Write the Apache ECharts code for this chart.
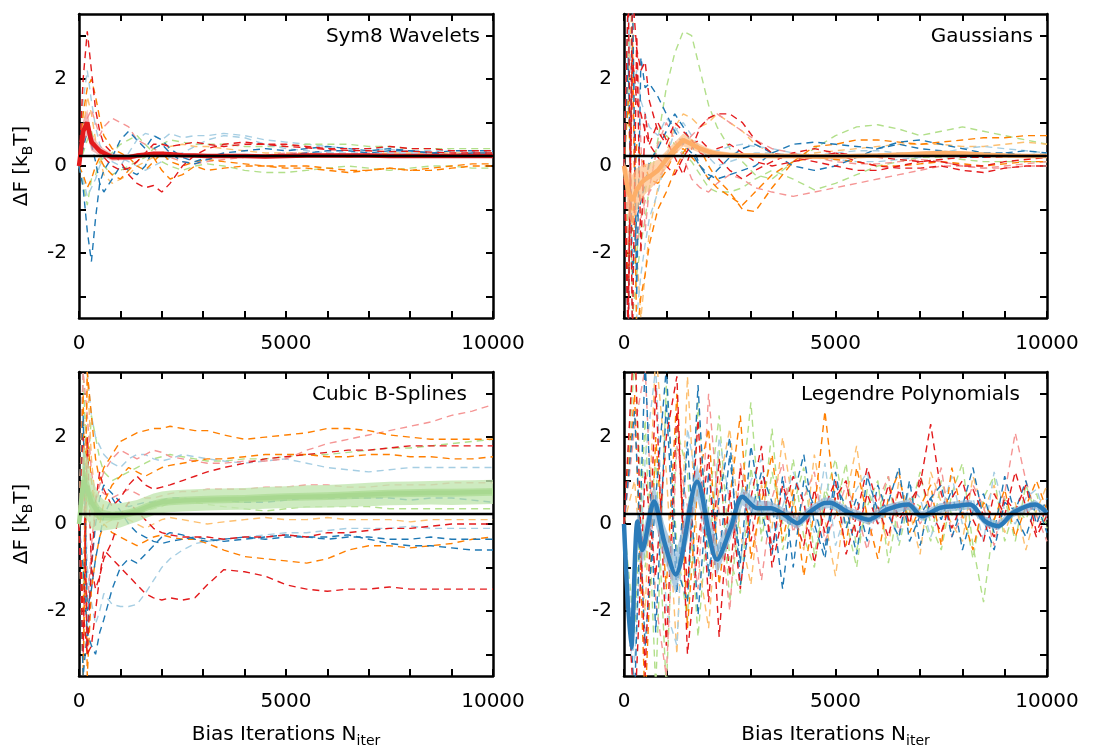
<!DOCTYPE html>
<html>
<head>
<meta charset="utf-8">
<script src="https://cdn.jsdelivr.net/npm/echarts@6/dist/echarts.min.js"></script>
<style>
  html, body { margin: 0; padding: 0; background: #fff; }
  #chart { width: 1109px; height: 749px; }
</style>
</head>
<body>
<div id="chart"></div>
<script>
// shared x positions (bias iterations) for the smooth-ish panels
const X_GRID = [0, 100, 200, 300, 400, 500, 600, 800, 1000, 1200, 1400, 1600, 1800, 2000, 2200, 2500,
  2800, 3100, 3500, 4000, 4500, 5000, 5500, 6000, 6500, 7000, 7500, 8000, 8500, 9000, 9500, 10000];
// Legendre panel runs are sampled every 250 iterations
const X_LEG = [0, 250, 500, 750, 1000, 1250, 1500, 1750, 2000, 2250, 2500, 2750, 3000, 3250, 3500, 3750,
  4000, 4250, 4500, 4750, 5000, 5250, 5500, 5750, 6000, 6250, 6500, 6750, 7000, 7250, 7500, 7750,
  8000, 8250, 8500, 8750, 9000, 9250, 9500, 9750, 10000];
const REF_VALUE = 0.23;
const X_LABELS = [0, 5000, 10000];
const X_TICKS = [0, 1000, 2000, 3000, 4000, 5000, 6000, 7000, 8000, 9000, 10000];
const Y_LABELS = [-2, 0, 2];
const Y_TICKS = [-3, -2, -1, 0, 1, 2, 3];

// ---- Sym8 Wavelets ----
const sym8Red = [0, 2.0, 3.1, 2.2, 1.3, 0.8, 0.5, 0.3, 0.1, -0.2, -0.4, -0.5, -0.45, -0.6, -0.4, 0.0, 0.25, 0.4, 0.5, 0.55, 0.5, 0.45, 0.42, 0.38, 0.36, 0.35, 0.33, 0.34, 0.32, 0.3, 0.3, 0.3];
const sym8Orange = [0, 1.2, 1.8, 2.0, 1.6, 1.1, 0.7, 0.4, 0.3, 0.2, 0.0, -0.1, 0.1, 0.3, 0.1, 0.0, 0.1, 0.15, 0.1, 0.05, 0.0, 0.0, 0.0, -0.05, -0.1, -0.1, -0.05, -0.1, -0.05, 0.0, 0.05, 0.05];
const sym8Blue = [0, -0.5, -1.5, -2.2, -1.2, -0.4, -0.1, 0.2, 0.6, 0.8, 0.6, 0.4, 0.7, 0.6, 0.4, 0.2, 0.1, 0.2, 0.3, 0.35, 0.4, 0.35, 0.4, 0.45, 0.4, 0.35, 0.4, 0.35, 0.3, 0.35, 0.35, 0.35];
const sym8LBlue = [0, 1.5, 2.2, 1.5, 0.9, 0.5, 0.3, 0.1, 0.0, 0.3, 0.6, 0.75, 0.7, 0.6, 0.75, 0.65, 0.7, 0.7, 0.75, 0.7, 0.6, 0.55, 0.5, 0.45, 0.4, 0.4, 0.38, 0.35, 0.35, 0.35, 0.35, 0.35];
const sym8Pink = [0, 0.6, 1.1, 1.3, 1.0, 0.7, 0.9, 1.1, 1.0, 0.9, 0.6, 0.5, 0.4, 0.3, 0.2, 0.1, 0.05, 0.1, 0.15, 0.2, 0.25, 0.3, 0.3, 0.3, 0.25, 0.25, 0.25, 0.2, 0.2, 0.2, 0.2, 0.2];
const sym8LGreen = [0, -0.4, -0.9, -0.3, -0.2, 0.1, 0.2, 0.3, 0.5, 0.6, 0.7, 0.5, 0.3, 0.1, 0.0, -0.1, 0.0, 0.05, 0.0, -0.1, -0.15, -0.15, -0.1, -0.05, 0.0, -0.05, -0.1, -0.05, 0.0, 0.0, -0.05, -0.05];
const sym8LOrange = [0, 0.8, 1.6, 1.2, 0.6, 0.2, -0.2, -0.4, -0.3, -0.2, 0.0, 0.1, 0.2, 0.3, 0.45, 0.5, 0.45, 0.45, 0.4, 0.35, 0.3, 0.3, 0.3, 0.25, 0.2, 0.25, 0.3, 0.3, 0.3, 0.3, 0.3, 0.3];
const sym8Blue2 = [0, 0.4, 0.8, 0.5, 0.1, -0.4, -0.6, -0.3, 0.0, -0.1, -0.2, 0.0, 0.4, 0.5, 0.3, 0.1, 0.05, 0.15, 0.25, 0.25, 0.2, 0.25, 0.3, 0.35, 0.35, 0.3, 0.35, 0.35, 0.3, 0.25, 0.3, 0.3];
const sym8Orange2 = [0, -0.2, -0.5, -0.3, 0.0, 0.2, 0.0, -0.2, -0.3, -0.1, 0.1, 0.3, 0.2, -0.1, -0.3, -0.2, 0.0, -0.1, -0.05, 0.0, 0.0, -0.05, -0.05, -0.1, -0.15, -0.1, -0.05, -0.1, -0.1, -0.05, 0.0, 0.0];
const sym8Red2 = [0, 0.5, 1.0, 0.7, 0.4, 0.3, 0.2, 0.0, -0.1, -0.05, 0.1, 0.3, 0.5, 0.5, 0.45, 0.5, 0.55, 0.5, 0.45, 0.5, 0.5, 0.5, 0.45, 0.4, 0.4, 0.4, 0.45, 0.4, 0.4, 0.35, 0.35, 0.35];
const sym8LGreen2 = [0, 0.3, 0.6, 0.8, 0.5, 0.3, 0.0, -0.2, -0.1, 0.0, 0.1, 0.2, 0.4, 0.5, 0.6, 0.55, 0.5, 0.5, 0.5, 0.45, 0.45, 0.45, 0.5, 0.5, 0.5, 0.45, 0.45, 0.4, 0.4, 0.4, 0.4, 0.4];
const sym8LBlue2 = [0, -0.3, -0.7, -0.5, -0.3, 0.0, 0.2, 0.3, 0.2, 0.1, 0.0, -0.1, 0.0, 0.1, 0.2, 0.3, 0.45, 0.6, 0.7, 0.65, 0.5, 0.4, 0.35, 0.3, 0.3, 0.3, 0.3, 0.3, 0.3, 0.25, 0.3, 0.3];
const sym8Mean = [0, 0.8, 1.0, 0.55, 0.45, 0.35, 0.3, 0.2, 0.2, 0.2, 0.24, 0.26, 0.28, 0.28, 0.27, 0.25, 0.24, 0.23, 0.23, 0.23, 0.22, 0.23, 0.24, 0.24, 0.24, 0.24, 0.23, 0.23, 0.23, 0.23, 0.23, 0.23];
const sym8Band = [0.05, 0.25, 0.3, 0.2, 0.15, 0.12, 0.1, 0.08, 0.07, 0.06, 0.06, 0.05, 0.05, 0.05, 0.05, 0.04, 0.04, 0.04, 0.04, 0.04, 0.04, 0.04, 0.04, 0.04, 0.04, 0.04, 0.04, 0.04, 0.04, 0.04, 0.04, 0.04];

// ---- Gaussians ----
const gaussRed = [0, 4, -4, 3, -2, 1.2, 0.5, 1.0, 0.6, 0.2, -0.2, 0.4, 0.9, 1.1, 1.2, 1.2, 1.0, 0.6, 0.3, 0.2, 0.1, 0.0, -0.1, -0.1, 0.0, 0.1, 0.1, 0.0, 0.0, 0.1, 0.15, 0.2];
const gaussBlue = [0, -4, 4, -3, 2.5, 1.8, 1.9, 1.6, 1.2, 0.8, 0.5, 0.3, 0.0, -0.3, -0.1, 0.2, 0.4, 0.5, 0.3, 0.0, -0.1, 0.0, 0.2, 0.4, 0.5, 0.4, 0.35, 0.2, 0.2, 0.3, 0.35, 0.3];
const gaussLGreen = [0, 3, -3.5, -2.5, -1.8, -1.2, -0.5, 0.6, 1.8, 2.6, 3.1, 3.0, 2.2, 1.4, 0.9, 0.4, 0.1, -0.2, -0.3, 0.1, 0.4, 0.7, 0.9, 0.95, 0.85, 0.7, 0.8, 0.9, 0.8, 0.7, 0.6, 0.5];
const gaussOrange = [0, -3, 3, -4, -3, -2.5, -1.8, -1.0, -0.6, -0.1, 0.3, 0.6, 0.4, 0.0, -0.3, -0.6, -1.0, -1.05, -0.5, 0.1, 0.45, 0.5, 0.6, 0.6, 0.55, 0.5, 0.55, 0.6, 0.65, 0.65, 0.7, 0.7];
const gaussLOrange = [0, 2, 4, -2, -3.5, -2.5, -1.5, -0.5, 0.3, 0.9, 1.2, 1.1, 0.9, 1.0, 1.2, 1.0, 0.8, 0.5, 0.3, 0.2, 0.3, 0.35, 0.4, 0.45, 0.5, 0.5, 0.5, 0.45, 0.45, 0.5, 0.55, 0.5];
const gaussPink = [0, -2, 3, 3, 0.5, -1.5, -0.5, 0.5, 1.0, 0.6, 0.2, -0.3, -0.5, -0.6, -0.4, -0.2, -0.3, -0.5, -0.6, -0.7, -0.6, -0.5, -0.4, -0.3, -0.2, -0.1, 0.0, 0.0, -0.05, 0.0, 0.05, 0.1];
const gaussLBlue = [0, 3.5, 1.5, 2.2, 1.5, 1.2, 0.9, 0.7, 1.1, 0.9, 0.6, 0.5, 0.4, 0.3, 0.35, 0.45, 0.5, 0.45, 0.4, 0.3, 0.2, 0.15, 0.1, 0.1, 0.15, 0.2, 0.3, 0.4, 0.45, 0.4, 0.35, 0.3];
const gaussRed2 = [0, -3.5, 2.5, 1.5, 1.2, 0.8, 0.5, 0.2, 0.0, -0.2, 0.2, 0.5, 0.6, 0.4, 0.2, -0.1, -0.3, -0.1, 0.1, 0.3, 0.4, 0.3, 0.1, 0.0, -0.05, -0.05, 0.0, -0.1, -0.15, -0.05, 0.0, 0.0];
const gaussBlue2 = [0, 2.5, -2.5, -1.2, -0.8, -0.4, 0.1, 0.4, 0.8, 1.2, 0.9, 0.5, 0.0, -0.2, -0.3, -0.2, -0.1, 0.0, 0.3, 0.5, 0.55, 0.5, 0.45, 0.4, 0.55, 0.6, 0.5, 0.4, 0.3, 0.3, 0.25, 0.2];
const gaussLGreen2 = [0, -1.5, -2.5, -2.0, -1.2, -0.6, 0.0, 0.5, 0.7, 0.5, 0.3, 0.1, -0.2, -0.5, -0.6, -0.6, -0.5, -0.3, -0.1, -0.3, -0.55, -0.4, -0.2, 0.0, 0.1, 0.2, 0.2, 0.15, 0.1, 0.1, 0.1, 0.1];
const gaussOrange2 = [0, 1.5, -1.5, 0.5, 0.2, 0.0, -0.3, -0.4, -0.1, 0.3, 0.4, 0.2, 0.0, -0.3, -0.5, -0.7, -0.9, -0.6, -0.2, 0.1, 0.2, 0.15, 0.1, 0.0, 0.0, 0.05, 0.1, 0.05, 0.0, 0.05, 0.1, 0.1];
const gaussPink2 = [0, -1, 1.8, -1.8, -1.2, -0.8, -0.6, -0.3, 0.0, 0.3, 0.5, 0.7, 0.9, 1.1, 1.2, 1.0, 0.8, 0.6, 0.4, 0.3, 0.2, 0.1, 0.05, 0.05, 0.1, 0.15, 0.1, 0.0, -0.05, -0.05, 0.0, 0.0];
const gaussRed3 = [0, -4, 4, 2.7, 2.2, 2.4, 1.5, 0.8, 0.5, 1.0, 0.8, 0.6, 0.3, 0.2, 0.4, 0.5, 0.3, 0.1, 0.0, 0.1, 0.2, 0.3, 0.25, 0.2, 0.15, 0.1, 0.15, 0.2, 0.2, 0.2, 0.25, 0.25];
const gaussLBlue2 = [0, 4, -4, -3.5, -2.5, -1.8, -1.2, -0.6, 0.2, 0.8, 1.0, 0.7, 0.4, 0.2, 0.0, 0.1, 0.2, 0.3, 0.3, 0.25, 0.25, 0.3, 0.35, 0.35, 0.3, 0.3, 0.35, 0.3, 0.3, 0.25, 0.25, 0.3];
const gaussMean = [0, -0.6, -0.8, -0.55, -0.4, -0.3, -0.25, -0.1, 0.15, 0.4, 0.6, 0.5, 0.4, 0.33, 0.28, 0.25, 0.24, 0.24, 0.23, 0.23, 0.22, 0.22, 0.23, 0.24, 0.26, 0.28, 0.3, 0.29, 0.26, 0.24, 0.23, 0.23];
const gaussBand = [0.1, 0.5, 0.6, 0.5, 0.4, 0.35, 0.3, 0.25, 0.2, 0.15, 0.15, 0.12, 0.1, 0.08, 0.07, 0.06, 0.06, 0.06, 0.05, 0.05, 0.05, 0.05, 0.05, 0.05, 0.05, 0.05, 0.05, 0.05, 0.05, 0.04, 0.04, 0.04];

// ---- Cubic B-Splines ----
const bsPink = [0, 3.5, 2.5, 1.2, 0.6, 0.9, 1.2, 1.5, 1.7, 1.6, 1.5, 1.6, 1.7, 1.65, 1.55, 1.5, 1.45, 1.4, 1.4, 1.45, 1.45, 1.5, 1.7, 1.85, 1.95, 2.05, 2.15, 2.25, 2.35, 2.5, 2.6, 2.75];
const bsOrange = [0, -2, 3.5, 2.5, 1.5, 1.0, 1.3, 1.6, 1.9, 2.0, 2.1, 2.15, 2.2, 2.2, 2.25, 2.2, 2.15, 2.15, 2.05, 1.95, 2.0, 2.05, 2.1, 2.2, 2.2, 2.15, 2.05, 2.0, 1.95, 1.95, 1.95, 1.95];
const bsRed = [0, 2, -3, -1, 0.5, 1.2, 0.8, 0.4, 0.6, 0.9, 1.1, 0.9, 0.8, 0.85, 0.9, 1.0, 1.1, 1.2, 1.3, 1.4, 1.5, 1.55, 1.6, 1.65, 1.7, 1.7, 1.75, 1.8, 1.8, 1.8, 1.8, 1.8];
const bsLGreen = [0, 3.5, 1, 2.5, 2.0, 1.5, 1.2, 1.0, 1.1, 1.2, 1.3, 1.4, 1.5, 1.55, 1.6, 1.55, 1.5, 1.45, 1.45, 1.5, 1.5, 1.55, 1.6, 1.6, 1.65, 1.7, 1.75, 1.75, 1.8, 1.85, 1.9, 1.95];
const bsOrange2 = [0, -3.5, 2, 1, 0.3, 0.0, 0.5, 0.9, 1.1, 1.3, 1.2, 1.1, 1.2, 1.3, 1.35, 1.4, 1.45, 1.5, 1.5, 1.55, 1.6, 1.6, 1.6, 1.55, 1.55, 1.6, 1.6, 1.55, 1.55, 1.5, 1.5, 1.55];
const bsLBlue = [0, 3.5, 3.5, 2.5, 2.0, 1.8, 1.6, 1.4, 1.3, 1.5, 1.6, 1.6, 1.5, 1.45, 1.5, 1.6, 1.55, 1.5, 1.45, 1.4, 1.45, 1.5, 1.4, 1.3, 1.25, 1.2, 1.25, 1.3, 1.3, 1.3, 1.3, 1.3];
const bsPink2 = [0, 1, -2, -0.5, 0.5, 0.8, 0.7, 0.6, 0.7, 0.8, 0.7, 0.6, 0.6, 0.65, 0.7, 0.75, 0.75, 0.8, 0.8, 0.8, 0.85, 0.85, 0.9, 0.9, 0.85, 0.85, 0.9, 0.9, 0.9, 0.95, 0.95, 0.95];
const bsBlue = [0, -1, -2.5, -1.0, 0.0, 0.6, 0.9, 0.7, 0.5, 0.4, 0.45, 0.5, 0.5, 0.55, 0.6, 0.6, 0.55, 0.55, 0.55, 0.5, 0.5, 0.55, 0.6, 0.6, 0.6, 0.6, 0.6, 0.55, 0.6, 0.6, 0.55, 0.5];
const bsLGreen2 = [0, -1.5, 0.5, 0.8, 0.3, 0.1, 0.2, 0.3, 0.25, 0.2, 0.25, 0.3, 0.35, 0.4, 0.5, 0.55, 0.5, 0.45, 0.4, 0.35, 0.3, 0.35, 0.4, 0.4, 0.4, 0.4, 0.35, 0.35, 0.35, 0.35, 0.35, 0.35];
const bsRedLow = [0, -2, -3, -2.8, -2.0, -1.2, -0.6, -0.8, -1.0, -1.2, -1.4, -1.6, -1.7, -1.75, -1.7, -1.75, -1.7, -1.4, -1.05, -1.1, -1.2, -1.4, -1.5, -1.55, -1.5, -1.5, -1.45, -1.5, -1.5, -1.5, -1.5, -1.5];
const bsLBlueLow = [0, 2, -1.0, -1.8, -2.3, -2.0, -1.6, -1.85, -1.9, -1.9, -1.85, -1.6, -1.3, -1.0, -0.8, -0.6, -0.45, -0.4, -0.35, -0.3, -0.25, -0.2, -0.2, -0.15, -0.1, -0.1, -0.1, -0.05, -0.1, -0.1, -0.1, -0.1];
const bsBlueLow = [0, -3.5, -2.5, -2.8, -3.0, -2.5, -2.2, -1.5, -1.0, -0.8, -0.9, -0.7, -0.5, -0.3, -0.2, -0.25, -0.35, -0.4, -0.35, -0.3, -0.35, -0.3, -0.3, -0.3, -0.25, -0.35, -0.45, -0.5, -0.5, -0.55, -0.6, -0.6];
const bsOrangeLow = [0, 3, -3.5, -1.5, -0.8, -0.3, 0.0, -0.2, -0.3, -0.4, -0.5, -0.4, -0.3, -0.25, -0.3, -0.35, -0.35, -0.45, -0.6, -0.75, -0.8, -0.85, -0.9, -0.8, -0.6, -0.5, -0.5, -0.55, -0.5, -0.45, -0.35, -0.3];
const bsRedMid = [0, -3, 2, -1, -1.5, -1.2, -0.8, -0.4, 0.2, 0.5, 0.3, 0.1, -0.1, -0.2, -0.25, -0.3, -0.3, -0.3, -0.35, -0.3, -0.3, -0.25, -0.3, -0.2, -0.2, -0.15, -0.1, -0.1, -0.05, 0.0, 0.0, 0.0];
const bsBlueMid = [0, 2.5, -2, -1.5, -0.8, -0.3, 0.2, 0.6, 0.3, 0.0, -0.2, -0.3, -0.4, -0.45, -0.4, -0.35, -0.3, -0.35, -0.4, -0.35, -0.3, -0.25, -0.3, -0.35, -0.3, -0.3, -0.35, -0.35, -0.3, -0.35, -0.35, -0.35];
const bsLOrange = [0, -3.5, 3.5, 1.5, 0.5, 0.2, 0.0, 0.1, 0.2, 0.1, 0.0, -0.1, 0.0, 0.1, 0.15, 0.1, 0.05, 0.0, 0.05, 0.1, 0.15, 0.1, 0.1, 0.15, 0.1, 0.1, 0.1, 0.05, 0.1, 0.1, 0.1, 0.1];
const bsMean = [0, 1.0, 0.8, 0.5, 0.35, 0.25, 0.2, 0.18, 0.2, 0.25, 0.3, 0.38, 0.45, 0.5, 0.52, 0.54, 0.55, 0.56, 0.57, 0.58, 0.6, 0.62, 0.63, 0.64, 0.66, 0.68, 0.7, 0.71, 0.72, 0.72, 0.73, 0.74];
const bsBandOuter = [0.1, 0.8, 0.7, 0.6, 0.5, 0.4, 0.35, 0.3, 0.28, 0.26, 0.25, 0.25, 0.25, 0.25, 0.25, 0.25, 0.25, 0.25, 0.25, 0.25, 0.25, 0.25, 0.26, 0.26, 0.26, 0.27, 0.27, 0.27, 0.27, 0.28, 0.28, 0.28];
const bsBandInner = [0.05, 0.35, 0.3, 0.25, 0.2, 0.15, 0.12, 0.1, 0.1, 0.09, 0.09, 0.09, 0.09, 0.09, 0.09, 0.09, 0.09, 0.09, 0.09, 0.09, 0.09, 0.09, 0.09, 0.09, 0.09, 0.09, 0.09, 0.09, 0.09, 0.09, 0.09, 0.09];

// ---- Legendre Polynomials ----
const legRed = [0, 4.5, -3.5, 3.2, -2.8, 2.6, -1.5, 2.4, -1.8, 1.5, -1.2, 1.3, -0.4, 1.0, -0.6, 0.9, 0.2, -0.5, 0.8, -0.2, 0.6, 1.0, -0.3, 0.7, 0.0, 0.9, 0.1, 0.5, 0.9, 2.3, 0.7, -0.1, 0.5, 0.8, 0.2, -0.3, 0.6, 0.3, 0.9, -0.2, 0.4];
const legBlue = [0, -4.0, 3.8, -2.5, 2.8, -1.6, 1.9, -2.1, 1.2, -0.8, 1.6, -0.9, 1.8, 0.3, -0.7, 1.1, -1.0, 1.0, 0.4, -0.6, 1.2, -0.1, 0.6, -0.4, 0.9, 0.2, -0.3, 1.0, -0.5, 0.6, 0.1, 0.8, -0.6, 0.3, 0.7, -0.2, 1.1, 0.2, -0.3, 0.5, -0.2];
const legOrange = [0, 3.0, -4.2, 2.0, -1.5, 3.0, -2.4, 1.0, 2.2, -1.4, 0.6, 2.5, -0.8, 0.5, 1.6, -0.4, 0.8, -1.2, 0.3, 2.6, 0.4, -0.5, 1.3, 0.2, -0.8, 0.6, 1.2, -0.2, 0.4, 0.9, -0.5, 1.3, 0.2, -0.6, 0.5, 0.1, 0.8, -0.3, 0.4, 1.0, 0.3];
const legLGreen = [0, -2.5, 2.4, -3.8, 3.2, -0.5, -2.2, 2.8, -0.6, 1.7, -1.8, 0.4, 2.8, -0.4, 1.2, 0.0, 1.5, -0.3, -1.0, 0.8, 0.3, 1.4, -0.6, 0.4, 1.0, -0.9, 0.5, 0.2, 1.2, 0.0, -0.6, 0.7, 1.4, -0.5, -1.8, 0.1, 0.6, -0.4, 0.9, 0.2, 0.0];
const legPink = [0, 2.2, 3.6, -1.8, -3.5, 1.8, 0.4, -1.5, 3.0, 0.2, -2.0, 1.4, 0.3, -1.3, 0.6, 1.4, -0.2, 0.6, 1.2, -0.4, 0.2, 0.9, 0.3, -0.6, 0.5, 1.1, -0.2, 0.6, 0.0, 0.4, 1.3, -0.3, 0.2, 0.9, 0.4, -0.5, 0.7, 2.1, 1.0, 0.2, -0.4];
const legLBlue = [0, -3.2, 1.5, 3.6, -2.0, -2.8, 2.2, 0.8, -1.2, 2.0, 0.5, -0.9, 1.0, 1.5, -0.5, 0.4, 1.2, 0.5, -0.2, 1.4, -0.5, 0.3, 0.8, 1.2, 0.0, 0.3, -0.4, 0.9, 0.6, -0.3, 0.3, 1.1, 0.0, 0.6, -0.4, 1.2, 0.3, 0.0, 0.6, 0.8, 0.1];
const legLOrange = [0, 1.0, -2.0, 4.0, 1.2, -3.0, 3.4, -0.8, -2.4, 0.9, 2.2, -0.2, -1.4, 0.9, -0.1, 2.0, 0.4, -0.6, 1.6, 0.1, -1.2, 0.6, 1.8, 0.0, 0.4, -0.5, 1.0, 0.3, -0.7, 1.2, 0.5, 0.0, -0.4, 1.1, 0.3, 0.9, -0.2, 0.5, -0.6, 0.3, 0.9];
const legRed2 = [0, -4.5, 1.2, -1.2, 2.0, 3.4, -3.0, -0.5, 1.6, -2.6, 0.8, -1.5, 0.6, 1.8, -1.0, 0.2, 1.1, 0.5, -0.9, 0.4, 1.0, -0.7, 0.2, 1.3, 0.4, -0.3, 0.8, 0.0, 1.1, 0.3, -0.2, 0.6, 1.0, 0.1, -0.4, 0.7, 0.2, 1.2, 0.4, -0.3, 0.2];
const legLGreen2 = [0, 3.8, -1.0, 1.5, -3.8, 2.2, 1.2, -2.6, 0.4, 2.5, -0.8, -1.6, 1.3, -0.2, 2.2, -0.6, 0.4, 1.3, -0.7, 0.6, 1.5, 0.1, -1.0, 0.8, 0.2, 1.1, -0.5, 0.6, 0.4, -0.4, 1.0, 0.2, 0.5, -0.8, 0.6, 1.1, -0.4, 0.4, 0.1, 0.7, -0.1];
const legBlue2 = [0, 2.6, -2.8, 0.6, 3.6, -1.0, -1.8, 3.2, -1.2, 0.6, 2.0, -1.4, 0.2, 1.2, 0.5, -1.5, 0.6, 1.6, 0.0, -0.8, 0.9, 0.4, -0.7, 1.1, 0.3, 0.5, 1.3, -0.4, 0.2, 0.6, 0.9, -0.3, 0.4, 1.3, 0.1, -0.6, 0.5, 0.3, 1.0, 0.0, 0.6];
const legMeanX = [0, 170, 320, 430, 710, 950, 1220, 1730, 2200, 2520, 2800, 3150, 3470, 3780, 4100, 4410, 4730, 4870, 5260, 5780, 6210, 6720, 7040, 7470, 7790, 8180, 8540, 8850, 9200, 9720, 10000];
const legMean = [0, -2.85, 0.06, -0.6, 0.52, -0.4, -1.16, 0.97, -0.82, -0.1, 0.63, 0.36, 0.36, 0.22, 0.02, 0.29, 0.48, 0.49, 0.29, 0.1, 0.33, 0.45, 0.18, 0.37, 0.41, 0.45, 0.06, -0.05, 0.26, 0.45, 0.26];
const legBand = [0.05, 0.3, 0.35, 0.35, 0.4, 0.4, 0.45, 0.4, 0.35, 0.25, 0.2, 0.18, 0.16, 0.15, 0.14, 0.13, 0.13, 0.12, 0.12, 0.12, 0.12, 0.12, 0.11, 0.11, 0.11, 0.11, 0.11, 0.1, 0.1, 0.1, 0.1];

const C = {
  red: '#e31a1c', pink: '#f59594', orange: '#ff7f00', lorange: '#fdbf6f',
  blue: '#1f78b4', lblue: '#a6cee3', lgreen: '#b2df8a'
};
const FONT = 'DejaVu Sans';

const panels = [
  {
    title: 'Sym8 Wavelets', xs: X_GRID,
    lines: [[sym8LBlue, C.lblue], [sym8LGreen, C.lgreen], [sym8LOrange, C.lorange], [sym8Pink, C.pink],
      [sym8LGreen2, C.lgreen], [sym8LBlue2, C.lblue], [sym8Orange, C.orange], [sym8Orange2, C.orange],
      [sym8Blue, C.blue], [sym8Blue2, C.blue], [sym8Red2, C.red], [sym8Red, C.red]],
    meanX: X_GRID, mean: sym8Mean, bands: [[sym8Band, '#ef8a8a', 0.6]], meanColor: '#e31a1c', smooth: false
  },
  {
    title: 'Gaussians', xs: X_GRID,
    lines: [[gaussLGreen, C.lgreen], [gaussLGreen2, C.lgreen], [gaussLOrange, C.lorange], [gaussLBlue, C.lblue],
      [gaussLBlue2, C.lblue], [gaussPink, C.pink], [gaussPink2, C.pink], [gaussOrange, C.orange],
      [gaussOrange2, C.orange], [gaussBlue, C.blue], [gaussBlue2, C.blue], [gaussRed, C.red],
      [gaussRed2, C.red], [gaussRed3, C.red]],
    meanX: X_GRID, mean: gaussMean, bands: [[gaussBand, '#fdbf88', 0.7]], meanColor: '#fdae68', smooth: false
  },
  {
    title: 'Cubic B-Splines', xs: X_GRID,
    lines: [[bsLGreen, C.lgreen], [bsLGreen2, C.lgreen], [bsLBlue, C.lblue], [bsLBlueLow, C.lblue],
      [bsLOrange, C.lorange], [bsPink, C.pink], [bsPink2, C.pink], [bsOrange, C.orange],
      [bsOrange2, C.orange], [bsOrangeLow, C.orange], [bsBlue, C.blue], [bsBlueLow, C.blue],
      [bsBlueMid, C.blue], [bsRed, C.red], [bsRedLow, C.red], [bsRedMid, C.red]],
    meanX: X_GRID, mean: bsMean,
    bands: [[bsBandOuter, '#c2e6b0', 0.8], [bsBandInner, '#a6d88c', 0.65]],
    meanColor: '#a8d890', smooth: false
  },
  {
    title: 'Legendre Polynomials', xs: X_LEG,
    lines: [[legLGreen, C.lgreen], [legLGreen2, C.lgreen], [legLOrange, C.lorange], [legLBlue, C.lblue],
      [legPink, C.pink], [legOrange, C.orange], [legBlue, C.blue], [legBlue2, C.blue],
      [legRed, C.red], [legRed2, C.red]],
    meanX: legMeanX, mean: legMean, bands: [[legBand, '#8fb8d8', 0.7]], meanColor: '#2b7bb9', smooth: 0.3
  }
];

const grids = [
  { left: 79, top: 14, width: 414, height: 304 },
  { left: 624, top: 14, width: 423, height: 304 },
  { left: 79, top: 372, width: 414, height: 305 },
  { left: 624, top: 372, width: 423, height: 305 }
];
const titlePos = [[480, 37], [1033, 37], [467, 395], [1020, 395]];

const axisLine = { show: true, onZero: false, lineStyle: { color: '#000', width: 2.5 } };
const tickStyle = { show: true, inside: true, length: 7, lineStyle: { color: '#000', width: 2 } };
const labelStyle = { color: '#000', fontSize: 20, fontFamily: FONT, formatter: v => String(v) };
const nameRich = {
  a: { fontSize: 20, fontFamily: FONT, color: '#000', lineHeight: 26 },
  s: { fontSize: 14, fontFamily: FONT, color: '#000', lineHeight: 26, verticalAlign: 'bottom' }
};

const pairs = (xs, ys) => ys.map((y, i) => [xs[i], y]);

// shaded spread around a mean curve, drawn as one polygon through the axis scales
function bandSeries(i, xs, mid, hw, color, opacity) {
  const rows = xs.map((x, j) => [x, mid[j] - hw[j], mid[j] + hw[j]]);
  return {
    type: 'custom', xAxisIndex: 2 * i, yAxisIndex: 2 * i, silent: true, z: 3, clip: true,
    data: rows,
    encode: { x: 0, y: [1, 2] },
    renderItem: (params, api) => {
      if (params.dataIndex !== 0) return null;
      const upper = rows.map(r => api.coord([r[0], r[2]]));
      const lower = rows.map(r => api.coord([r[0], r[1]])).reverse();
      return {
        type: 'polygon',
        shape: { points: upper.concat(lower) },
        style: { fill: color, opacity }
      };
    }
  };
}

const xAxes = [];
const yAxes = [];
const series = [];

panels.forEach((p, i) => {
  const bottom = i >= 2;
  const left = i % 2 === 0;
  xAxes.push({
    type: 'value', gridIndex: i, min: 0, max: 10000,
    axisLine, splitLine: { show: false },
    axisTick: Object.assign({ customValues: X_TICKS }, tickStyle),
    axisLabel: Object.assign({ customValues: X_LABELS, margin: 16 }, labelStyle),
    name: bottom ? '{a|Bias Iterations N}{s|iter}' : '',
    nameLocation: 'middle', nameGap: 46,
    nameTextStyle: { rich: nameRich }
  });
  xAxes.push({
    type: 'value', gridIndex: i, min: 0, max: 10000, position: 'top',
    axisLine, splitLine: { show: false },
    axisTick: Object.assign({ customValues: X_TICKS }, tickStyle),
    axisLabel: { show: false }
  });
  yAxes.push({
    type: 'value', gridIndex: i, min: -3.5, max: 3.5,
    axisLine, splitLine: { show: false },
    axisTick: Object.assign({ customValues: Y_TICKS }, tickStyle),
    axisLabel: Object.assign({ customValues: Y_LABELS, margin: 12 }, labelStyle),
    name: left ? '{a|ΔF [k}{s|B}{a|T]}' : '',
    nameLocation: 'middle', nameGap: 44, nameRotate: 90,
    nameTextStyle: { rich: nameRich }
  });
  yAxes.push({
    type: 'value', gridIndex: i, min: -3.5, max: 3.5, position: 'right',
    axisLine, splitLine: { show: false },
    axisTick: Object.assign({ customValues: Y_TICKS }, tickStyle),
    axisLabel: { show: false }
  });

  const ax = { xAxisIndex: 2 * i, yAxisIndex: 2 * i };

  p.lines.forEach(([vals, color]) => {
    series.push(Object.assign({
      type: 'line', data: pairs(p.xs, vals), symbol: 'none', silent: true, z: 2,
      lineStyle: { color, width: 1.4, type: [7, 5] }
    }, ax));
  });

  p.bands.forEach(([hw, color, op]) => {
    series.push(bandSeries(i, p.meanX, p.mean, hw, color, op));
  });

  series.push(Object.assign({
    type: 'line', data: pairs(p.meanX, p.mean), symbol: 'none', silent: true, z: 4,
    smooth: p.smooth, lineStyle: { color: p.meanColor, width: 4.5 }
  }, ax));

  series.push(Object.assign({
    type: 'line', data: [[0, REF_VALUE], [10000, REF_VALUE]], symbol: 'none', silent: true, z: 6,
    lineStyle: { color: '#000', width: 2.6 }
  }, ax));
});

const chart = echarts.init(document.getElementById('chart'));
chart.setOption({
  animation: false,
  backgroundColor: '#fff',
  grid: grids,
  xAxis: xAxes,
  yAxis: yAxes,
  series,
  graphic: panels.map((p, i) => ({
    type: 'text', x: titlePos[i][0], y: titlePos[i][1], z: 10,
    style: { text: p.title, fontSize: 20, fontFamily: FONT, fill: '#000', align: 'right', verticalAlign: 'middle' }
  }))
});
</script>
</body>
</html>
